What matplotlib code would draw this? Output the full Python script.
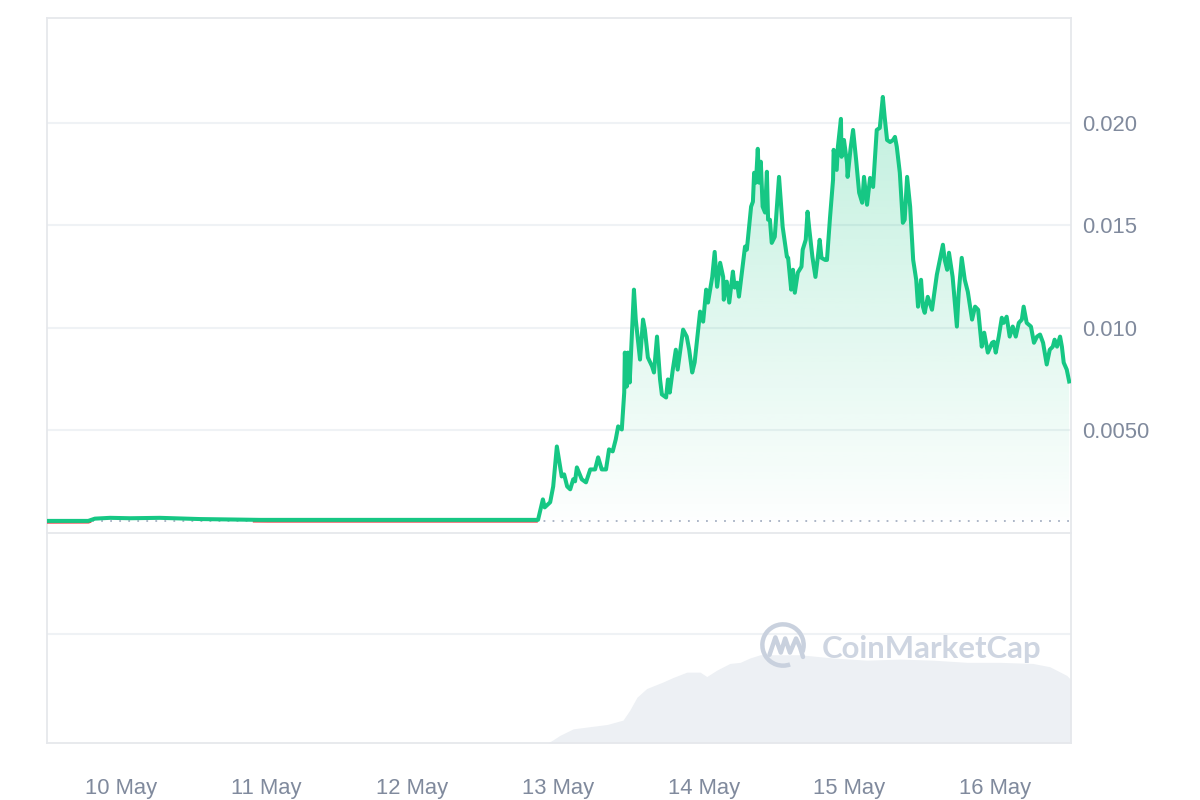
import numpy as np
import matplotlib
matplotlib.use("Agg")
import matplotlib.pyplot as plt
from matplotlib.patches import Arc, PathPatch
from matplotlib.path import Path

# ---------------- data (hours since 10 May 00:00, price in USD) ----------------
hours = [-12.2, -5.4, -4.3, -1.8, 1.5, 6.4, 13.0, 22.9, 37.7, 54.2, 68.7,
         69.5, 69.8, 70.7, 71.2, 71.8, 72.6, 73.0, 73.5, 74.0, 74.5, 74.8, 75.1, 75.9,
         76.6, 77.3, 78.1, 78.6, 79.2, 79.9, 80.4, 81.0, 81.5, 81.9, 82.5, 82.9, 83.0,
         83.3, 83.5, 83.8, 84.5, 84.8, 85.5, 86.0, 86.3, 86.8, 87.5, 87.8, 88.3, 88.8,
         89.1, 89.8, 90.1, 90.4, 90.9, 91.4, 91.7, 92.6, 93.2, 93.6, 94.1, 94.5, 94.9,
         95.4, 95.9, 96.4, 96.7, 97.4, 97.8, 98.2, 98.7, 99.2, 99.3, 99.8, 100.2, 100.8,
         101.1, 101.5, 101.8, 102.8, 103.1, 103.8, 104.1, 104.3, 104.6, 104.9, 105.1,
         105.4, 105.7, 106.1, 106.4, 106.6, 106.9, 107.2, 107.7, 108.1, 108.4, 109.0,
         109.7, 109.9, 110.4, 110.7, 111.0, 111.5, 111.8, 112.1, 112.3, 112.8, 113.1,
         113.4, 113.9, 114.4, 114.8, 115.1, 115.4, 116.0, 116.3, 116.8, 117.3, 117.4,
         117.9, 118.1, 118.6, 118.7, 119.1, 119.6, 119.7, 120.2, 120.6, 121.1, 121.6,
         122.1, 122.4, 122.9, 123.4, 123.9, 124.2, 124.5, 125.0, 125.5, 125.8, 126.2,
         126.7, 127.2, 127.5, 127.8, 128.3, 128.8, 129.1, 129.5, 130.0, 130.5, 131.0,
         131.3, 131.8, 132.1, 132.4, 132.9, 133.6, 134.4, 134.9, 135.4, 135.7, 136.1,
         136.4, 137.0, 137.7, 138.0, 138.5, 139.0, 139.5, 140.2, 140.7, 141.2, 141.8,
         142.2, 142.8, 143.5, 143.8, 144.1, 144.6, 145.1, 145.4, 145.9, 146.4, 146.9,
         147.4, 147.9, 148.4, 148.7, 149.2, 149.9, 150.4, 150.9, 151.4, 151.9, 152.5,
         153.0, 153.5, 153.8, 154.2, 154.7, 155.0, 155.3, 155.8, 156.2]
price_milli = [0.59, 0.59, 0.70, 0.74, 0.72, 0.74, 0.68, 0.64, 0.64, 0.64, 0.64,
               1.64, 1.25, 1.50, 2.27, 4.22, 2.76, 2.86, 2.27, 2.13, 2.62, 2.52, 3.20, 2.62,
               2.47, 3.10, 3.10, 3.69, 3.10, 3.10, 4.08, 3.98, 4.56, 5.20, 5.05, 6.85, 8.80,
               7.14, 8.80, 7.34, 11.87, 10.41, 8.46, 10.41, 9.92, 8.56, 8.12, 7.83, 9.58, 7.49,
               6.76, 6.61, 7.49, 6.85, 7.97, 8.94, 7.97, 9.92, 9.58, 8.94, 7.83, 8.32, 9.44,
               10.80, 10.31, 11.87, 11.24, 12.49, 13.71, 12.01, 13.18, 12.49, 11.38, 12.26, 11.24, 12.75,
               11.97, 12.21, 11.53, 13.97, 13.82, 15.92, 16.16, 17.57, 17.09, 18.74, 17.09,
               18.11, 15.92, 15.63, 17.62, 15.28, 15.28, 14.15, 14.45, 16.10, 17.37, 14.93,
               13.47, 13.42, 11.87, 12.84, 11.72, 12.70, 12.84, 12.99, 13.82, 14.30, 15.67,
               14.79, 13.47, 12.49, 13.47, 14.30, 13.42, 13.32, 13.32, 15.38, 17.23, 18.69,
               17.71, 18.84, 20.20, 18.35, 19.17, 18.05, 17.37, 18.79, 19.66, 18.20, 16.60,
               16.11, 17.37, 16.01, 17.32, 16.88, 18.30, 19.66, 19.76, 21.27, 20.30, 19.17,
               19.07, 19.17, 19.32, 18.84, 17.57, 15.13, 15.28, 17.37, 15.92, 13.32, 12.35,
               11.04, 12.35, 11.04, 10.74, 11.52, 10.89, 12.60, 13.32, 14.06, 13.32, 12.84,
               13.67, 12.49, 10.07, 11.72, 13.42, 12.35, 11.77, 10.41, 11.04, 10.89, 9.09,
               9.77, 8.80, 9.28, 9.33, 8.80, 9.58, 10.50, 10.25, 10.55, 9.58, 10.07,
               9.58, 10.25, 10.41, 11.04, 10.25, 10.07, 9.28, 9.58, 9.68, 9.28, 8.22,
               8.94, 9.09, 9.43, 9.09, 9.58, 9.09, 8.31, 7.97, 7.39]
open_price = 0.00057

vol_hours = [70.3, 71.2, 72.3, 74.5, 77.3, 80.1, 82.7, 83.8, 85.0, 86.6, 89.3, 90.9,
             93.2, 95.4, 96.5, 98.2, 100.3, 102.0, 103.6, 105.3, 111.8, 117.3, 122.9,
             128.3, 133.8, 139.4, 144.8, 150.2, 153.0, 155.8, 156.5]
volume = [0.0, 0.03, 0.07, 0.13, 0.15, 0.17, 0.21, 0.30, 0.42, 0.50, 0.56, 0.60,
          0.65, 0.65, 0.61, 0.67, 0.73, 0.74, 0.78, 0.81, 0.81, 0.78, 0.76,
          0.77, 0.76, 0.74, 0.74, 0.73, 0.70, 0.62, 0.58]

y_ticks = [0.005, 0.010, 0.015, 0.020]
y_labels = ["0.0050", "0.010", "0.015", "0.020"]
x_ticks = [0, 24, 48, 72, 96, 120, 144]
x_labels = ["10 May", "11 May", "12 May", "13 May", "14 May", "15 May", "16 May"]

# ---------------- style ----------------
GREEN = "#16c784"
RED = "#ea3943"
GRID = "#eff2f5"
BORDER = "#e6e8ec"
TXT = "#808a9d"
plt.rcParams['font.family'] = ['Liberation Sans', 'DejaVu Sans']

t = np.array(hours)
p = np.array(price_milli) / 1000.0
xmin, xmax = -12.19, 156.5

W, H = 1200, 800
fig = plt.figure(figsize=(12, 8), dpi=100)
fig.patch.set_facecolor("white")

def rect(l, t_, r, b):
    return [l / W, 1 - b / H, (r - l) / W, (b - t_) / H]

ax = fig.add_axes(rect(47, 18, 1071, 533))
axv = fig.add_axes(rect(47, 533, 1071, 743))

# ---- price panel ----
ax.set_xlim(xmin, xmax)
ax.set_ylim(0, 0.02512)
for yv in y_ticks:
    ax.axhline(yv, color=GRID, lw=1.5, zorder=0)

# gradient fill between price and open line
poly = ax.fill_between(t, p, open_price, where=p >= open_price, interpolate=True,
                       color="none", lw=0)
grad = np.linspace(0, 1, 256)
cm = np.zeros((256, 1, 4))
cm[:, 0, 0] = 22 / 255
cm[:, 0, 1] = 199 / 255
cm[:, 0, 2] = 132 / 255
cm[:, 0, 3] = 0.01 + 0.26 * grad
img = ax.imshow(cm, extent=[xmin, xmax, open_price, 0.0215], origin="lower",
                aspect="auto", zorder=1)
allverts, allcodes = [], []
for pth in poly.get_paths():
    allverts.append(pth.vertices)
    allcodes.append(pth.codes if pth.codes is not None else
                    np.full(len(pth.vertices), Path.LINETO))
clip = PathPatch(Path(np.concatenate(allverts), np.concatenate(allcodes)),
                 transform=ax.transData, facecolor="none", edgecolor="none")
ax.add_patch(clip)
img.set_clip_path(clip)

# open reference dotted line
ax.axhline(open_price, color="#a6b0c3", lw=1.3, ls=(0, (1, 4)), zorder=2)

# red part (below open) drawn under green
tf = np.linspace(t[0], t[-1], 3000)
pf = np.interp(tf, t, p)
red = np.where(pf <= 0.000645, pf - 0.00008, np.nan)
ax.plot(tf, red, color=RED, lw=1.6, zorder=3, solid_capstyle="butt")
ax.plot(t, p, color=GREEN, lw=2.9, zorder=4, solid_joinstyle="round")

ax.set_yticks(y_ticks)
ax.set_yticklabels(y_labels)
ax.yaxis.tick_right()
ax.tick_params(axis="y", length=0, pad=8, labelsize=15.8, labelcolor=TXT)
ax.set_xticks([])
for s in ["left", "right", "top", "bottom"]:
    ax.spines[s].set_color(BORDER)
    ax.spines[s].set_linewidth(1.3)
ax.set_facecolor("none")

# ---- volume panel ----
axv.set_xlim(xmin, xmax)
axv.set_ylim(0, 1.927)
axv.axhline(1.0, color=GRID, lw=1.5, zorder=0)
axv.fill_between(vol_hours, volume, 0, color="#edf0f4", lw=0, zorder=1)
axv.set_yticks([])
axv.set_xticks(x_ticks)
axv.set_xticklabels(x_labels)
axv.tick_params(axis="x", length=0, pad=25.5, labelsize=15.8, labelcolor=TXT)
for s in ["left", "right", "bottom"]:
    axv.spines[s].set_color(BORDER)
    axv.spines[s].set_linewidth(1.3)
axv.spines["top"].set_visible(False)
axv.set_facecolor("none")

# ---- watermark ----
WM = "#c9d1de"
fig.text(822 / W, 1 - 649 / H, "CoinMarketCap", fontsize=22.4, fontweight="bold",
         color=WM, va="center", ha="left", family=["Lato", "DejaVu Sans"], alpha=0.9)
lax = fig.add_axes(rect(758, 620, 808, 670))
lax.set_xlim(-1.15, 1.15)
lax.set_ylim(-1.15, 1.15)
lax.set_aspect("equal")
lax.axis("off")
lax.add_patch(Arc((0, 0), 1.9, 1.9, theta1=-20, theta2=290, color=WM, lw=3.2))
lax.plot([-0.62, -0.35, -0.1, 0.1, 0.32, 0.6, 0.78, 0.92],
         [-0.45, 0.35, -0.35, 0.3, -0.35, 0.3, -0.1, -0.55],
         color=WM, lw=3.2, solid_joinstyle="round", solid_capstyle="round")

fig.savefig("out.png", dpi=100, facecolor="white")
